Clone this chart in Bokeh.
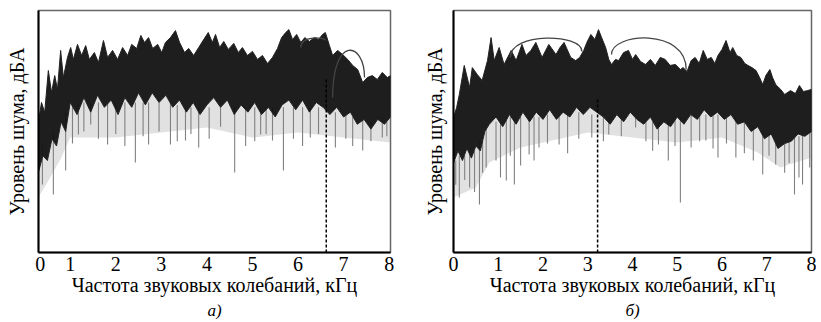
import numpy as np
from bokeh.plotting import figure
from bokeh.layouts import row
from bokeh.models import FixedTicker, Range1d, Title
from bokeh.embed import file_html
from bokeh.resources import INLINE

# ---------------- panel (а) ----------------
a_freq = [0.30, 0.37, 0.44, 0.52, 0.59, 0.66, 0.72, 0.79, 0.85, 0.94, 1.01, 1.07, 1.16, 1.25,
          1.34, 1.42, 1.53, 1.62, 1.73, 1.82, 1.93, 2.04, 2.15, 2.26, 2.35, 2.46, 2.55, 2.63,
          2.72, 2.81, 2.92, 3.01, 3.09, 3.20, 3.31, 3.40, 3.51, 3.60, 3.71, 3.82, 3.93, 4.03,
          4.12, 4.19, 4.28, 4.37, 4.47, 4.59, 4.69, 4.78, 4.89, 5.00, 5.11, 5.22, 5.33, 5.44,
          5.55, 5.64, 5.73, 5.80, 5.88, 5.97, 6.06, 6.15, 6.25, 6.36, 6.45, 6.54, 6.60, 6.69,
          6.76, 6.87, 6.98, 7.09, 7.20, 7.31, 7.42, 7.52, 7.63, 7.74, 7.85, 7.96, 8.03]
a_top = [53.7, 62.0, 57.9, 75.2, 66.1, 73.1, 67.4, 83.5, 72.3, 80.6, 84.7, 79.8, 86.0, 81.4,
         85.5, 79.8, 82.6, 78.5, 87.6, 80.6, 83.5, 79.8, 84.7, 81.4, 86.0, 84.3, 89.7, 86.8,
         88.8, 84.3, 86.0, 82.6, 86.8, 88.8, 91.7, 86.8, 82.6, 84.3, 81.4, 84.7, 88.0, 90.9,
         86.8, 90.1, 84.7, 87.2, 83.9, 86.4, 82.6, 84.7, 81.4, 83.1, 79.8, 81.4, 78.1, 80.6,
         84.3, 88.8, 90.9, 92.1, 88.0, 90.1, 86.8, 88.8, 87.2, 88.8, 88.0, 90.1, 90.9, 85.5,
         81.4, 83.5, 81.8, 79.8, 77.3, 75.6, 70.2, 72.3, 73.1, 71.5, 74.4, 72.3, 73.1]
a_core_freq = [0.30, 0.40, 0.50, 0.60, 0.70, 0.80, 0.90, 1.00, 1.15, 1.30, 1.45, 1.60, 1.75,
               1.90, 2.05, 2.20, 2.35, 2.50, 2.65, 2.80, 2.95, 3.10, 3.25, 3.40, 3.55, 3.70,
               3.85, 4.00, 4.15, 4.30, 4.45, 4.60, 4.75, 4.90, 5.05, 5.20, 5.35, 5.50, 5.65,
               5.80, 5.95, 6.10, 6.25, 6.40, 6.55, 6.70, 6.85, 7.00, 7.15, 7.30, 7.45, 7.60,
               7.75, 7.90, 8.03]
a_core = [33, 40, 38, 47, 44, 54, 50, 62, 57, 64, 58, 65, 60, 63, 57, 64, 60, 66, 61, 66, 62,
          65, 60, 63, 58, 62, 57, 61, 64, 60, 63, 57, 61, 58, 62, 57, 60, 56, 61, 63, 59, 63,
          58, 62, 60, 57, 60, 56, 58, 53, 55, 51, 55, 53, 56]
a_fringe_freq = [0.30, 0.5, 0.8, 1.0, 2.0, 3.0, 4.0, 5.0, 6.0, 7.0, 8.03]
a_fringe = [22.7, 29.0, 39.0, 47.5, 47.5, 49.6, 51.7, 47.5, 49.6, 47.5, 45.5]
a_spike_freq = [0.39, 0.63, 0.90, 1.18, 1.45, 1.82, 2.43, 2.72, 3.20, 3.53, 3.82, 4.61, 5.18,
                5.44, 5.68, 6.27, 6.82, 7.42, 7.85,
                1.05, 1.30, 1.62, 2.00, 2.20, 2.60, 2.95, 3.35, 3.65, 4.05, 4.30, 4.85, 5.05,
                5.30, 5.90, 6.10, 6.45, 7.05, 7.20, 7.60, 7.95]
a_spike_top = [45, 50, 58, 62, 62, 62, 62, 62, 62, 60, 60, 60, 60, 60, 60, 60, 58, 55, 56,
               60, 62, 62, 62, 62, 62, 62, 61, 60, 60, 60, 60, 60, 60, 60, 60, 60, 57, 56, 54, 54]
a_spike_low = [28.1, 24.0, 33.9, 48.8, 52.9, 44.6, 37.2, 44.6, 44.6, 46.3, 43.4, 33.1, 48.8,
               46.3, 33.9, 47.5, 43.4, 42.1, 47.5,
               45, 50, 47, 49, 44, 48, 50, 46, 49, 47, 52, 44, 46, 49, 47, 44, 49, 47, 44, 46, 48]
a_marker = [6.62]
a_marker_top = [72.0]
a_arc_x0 = [6.06, 6.76]
a_arc_y0 = [84.7, 64.0]
a_arc_x1 = [6.60, 7.46]
a_arc_y1 = [87.6, 72.3]
a_arc_top = [88.6, 83.5]
a_ticks = [0.34, 1, 2, 3, 4, 5, 6, 7, 8]
a_range = (0.304, 8.03)

# ---------------- panel (б) ----------------
b_freq = [0.00, 0.07, 0.13, 0.24, 0.36, 0.42, 0.53, 0.64, 0.76, 0.84, 0.91, 1.02, 1.13, 1.29,
          1.40, 1.53, 1.62, 1.73, 1.84, 1.98, 2.13, 2.29, 2.38, 2.47, 2.62, 2.73, 2.82, 2.91,
          2.98, 3.07, 3.16, 3.24, 3.31, 3.40, 3.47, 3.53, 3.62, 3.69, 3.80, 3.91, 4.00, 4.07,
          4.18, 4.29, 4.40, 4.51, 4.62, 4.73, 4.84, 4.96, 5.07, 5.13, 5.22, 5.31, 5.40, 5.49,
          5.58, 5.67, 5.76, 5.84, 5.91, 6.00, 6.09, 6.18, 6.24, 6.33, 6.42, 6.51, 6.58, 6.67,
          6.76, 6.84, 6.91, 6.98, 7.07, 7.13, 7.20, 7.31, 7.40, 7.53, 7.64, 7.73, 7.82, 7.91, 8.00]
b_top = [55.8, 59.9, 65.3, 77.3, 68.2, 76.4, 73.6, 71.1, 79.3, 88.8, 79.3, 84.7, 77.7, 83.5,
         79.3, 86.0, 81.4, 83.5, 86.8, 80.6, 86.0, 81.8, 84.7, 86.8, 80.6, 79.3, 80.6, 83.5,
         86.8, 90.1, 88.0, 92.1, 88.8, 84.7, 79.8, 77.7, 79.8, 79.3, 82.6, 83.5, 79.8, 81.8,
         78.9, 77.7, 79.8, 77.3, 80.6, 79.8, 77.3, 77.7, 75.6, 76.4, 74.8, 79.3, 80.6, 78.1,
         83.5, 79.8, 80.6, 78.1, 81.4, 83.9, 87.6, 82.6, 84.7, 81.4, 80.6, 78.1, 77.3, 76.4,
         75.2, 72.3, 69.4, 73.1, 75.6, 72.3, 69.4, 67.4, 65.3, 66.9, 65.7, 69.0, 66.5, 66.9, 67.4]
b_core_freq = [0.00, 0.10, 0.20, 0.30, 0.40, 0.50, 0.60, 0.70, 0.80, 0.95, 1.10, 1.25, 1.40,
               1.55, 1.70, 1.85, 2.00, 2.15, 2.30, 2.45, 2.60, 2.75, 2.90, 3.05, 3.20, 3.35,
               3.50, 3.65, 3.80, 3.95, 4.10, 4.25, 4.40, 4.55, 4.70, 4.85, 5.00, 5.15, 5.30,
               5.45, 5.60, 5.75, 5.90, 6.05, 6.20, 6.35, 6.50, 6.65, 6.80, 6.95, 7.10, 7.25,
               7.40, 7.55, 7.70, 7.85, 8.00]
b_core = [37, 42, 38, 43, 39, 44, 42, 50, 53, 56, 52, 57, 53, 58, 54, 58, 55, 59, 55, 58, 56,
          60, 57, 60, 58, 56, 53, 57, 54, 58, 55, 53, 56, 51, 54, 52, 56, 53, 57, 55, 59, 56,
          58, 55, 57, 53, 54, 50, 52, 47, 49, 43, 45, 46, 49, 48, 50]
b_fringe_freq = [0.0, 0.5, 0.8, 1.5, 2.5, 3.0, 4.0, 5.0, 6.0, 6.8, 7.3, 8.0]
b_fringe = [22.7, 26.9, 37.2, 43.4, 47.5, 49.6, 47.5, 45.5, 47.5, 41.3, 35.1, 39.3]
b_spike_freq = [0.13, 0.36, 0.58, 0.73, 1.18, 1.36, 1.69, 1.91, 2.36, 3.09, 3.47, 4.07, 4.58,
                4.80, 5.07, 5.31, 5.64, 5.91, 6.31, 6.91, 7.20, 7.62, 7.80, 7.96,
                0.05, 0.25, 0.47, 0.65, 0.95, 1.05, 1.27, 1.50, 1.80, 2.10, 2.55, 2.80, 3.35,
                3.75, 4.30, 4.45, 4.95, 5.50, 5.80, 6.10, 6.50, 6.70, 7.05, 7.40, 7.50, 7.72]
b_spike_top = [40, 42, 46, 52, 56, 56, 56, 56, 57, 57, 56, 56, 54, 55, 56, 57, 57, 57, 56, 50,
               45, 48, 49, 50,
               38, 40, 42, 46, 54, 54, 56, 56, 56, 57, 57, 58, 56, 55, 54, 54, 55, 57, 57, 56,
               54, 52, 50, 45, 46, 48]
b_spike_low = [22.7, 26.9, 19.8, 35.1, 29.8, 28.1, 40.5, 43.4, 44.6, 47.5, 48.8, 51.7, 44.6,
               38.0, 20.7, 43.4, 46.3, 39.3, 39.3, 32.2, 36.4, 24.0, 28.1, 35.1,
               28, 30, 25, 33, 38, 31, 40, 36, 38, 45, 41, 47, 46, 48, 46, 42, 44, 46, 43, 45,
               41, 38, 40, 33, 37, 31]
b_marker = [3.22]
b_marker_top = [64.0]
b_arc_x0 = [1.27, 3.53]
b_arc_y0 = [80.6, 81.8]
b_arc_x1 = [2.87, 5.20]
b_arc_y1 = [83.1, 75.6]
b_arc_top = [88.6, 88.6]
b_ticks = [0, 1, 2, 3, 4, 5, 6, 7, 8]
b_range = (0.0, 8.0)

X_LABEL = "Частота звуковых колебаний, кГц"
Y_LABEL = "Уровень шума, дБА"
FONT = "Liberation Serif"
FS = "20px"


def panel(freq, top, core_f, core, fr_f, fr, sp_f, sp_t, sp_l, mk, mk_top,
          ax0, ay0, ax1, ay1, atop, ticks, xr, tag, bl, br, fw, y_stand):
    p = figure(frame_width=fw, frame_height=242, x_range=Range1d(*xr), y_range=Range1d(0, 100),
               output_backend="svg", toolbar_location=None,
               min_border_left=bl, min_border_right=br, min_border_top=10, min_border_bottom=60)
    p.background_fill_color = "white"
    p.border_fill_color = "white"
    p.grid.visible = False
    p.outline_line_color = "#666666"
    p.outline_line_width = 1.5

    # grey fringe of downward streaks
    p.patch(list(core_f) + list(fr_f)[::-1], list(core) + list(fr)[::-1],
            fill_color="#9a9a9a", fill_alpha=0.3, line_color=None)
    # deep spikes
    p.segment(x0=sp_f, y0=sp_t, x1=sp_f, y1=sp_l, line_color="#808080", line_width=1.1)
    # dense black spectrum body
    p.patch(list(freq) + list(core_f)[::-1], list(top) + list(core)[::-1],
            fill_color="#121212", fill_alpha=0.95, line_color="#222222", line_width=1)
    # marker line
    p.segment(x0=mk, y0=[0] * len(mk), x1=mk, y1=mk_top, line_color="black",
              line_width=1.5, line_dash="3 2")
    # arcs (cubic Bezier approximating half ellipses)
    cy0 = [y0 + (t - y0) / 0.75 for y0, t in zip(ay0, atop)]
    cy1 = [y1 + (t - y1) / 0.75 for y1, t in zip(ay1, atop)]
    p.bezier(x0=ax0, y0=ay0, x1=ax1, y1=ay1, cx0=ax0, cy0=cy0, cx1=ax1, cy1=cy1,
             line_color="#444444", line_width=1.3)

    xa = p.xaxis[0]
    xa.ticker = FixedTicker(ticks=ticks)
    xa.major_label_overrides = {ticks[0]: "0"}
    xa.major_tick_line_color = None
    xa.minor_tick_line_color = None
    xa.major_tick_out = 0
    xa.major_label_standoff = 4
    xa.major_label_text_font = FONT
    xa.major_label_text_font_size = FS
    xa.major_label_text_color = "black"
    xa.axis_label = X_LABEL
    xa.axis_label_text_font = FONT
    xa.axis_label_text_font_size = FS
    xa.axis_label_text_font_style = "normal"
    xa.axis_label_text_color = "black"
    xa.axis_label_standoff = 0
    xa.axis_line_color = "black"
    xa.axis_line_width = 2

    ya = p.yaxis[0]
    ya.ticker = FixedTicker(ticks=[])
    ya.major_tick_line_color = None
    ya.minor_tick_line_color = None
    ya.major_tick_out = 0
    ya.major_label_standoff = 0
    ya.axis_label = Y_LABEL
    ya.axis_label_text_font = FONT
    ya.axis_label_text_font_size = FS
    ya.axis_label_text_font_style = "normal"
    ya.axis_label_text_color = "black"
    ya.axis_label_standoff = y_stand
    ya.axis_line_color = "black"
    ya.axis_line_width = 2

    p.add_layout(Title(text=tag, align="center", text_font=FONT, text_font_size="17px",
                       text_font_style="italic", text_color="black", standoff=0, offset=0),
                 "below")
    return p


p1 = panel(a_freq, a_top, a_core_freq, a_core, a_fringe_freq, a_fringe,
           a_spike_freq, a_spike_top, a_spike_low, a_marker, a_marker_top,
           a_arc_x0, a_arc_y0, a_arc_x1, a_arc_y1, a_arc_top, a_ticks, a_range, "а)",
           38, 18, 352, 11)
p2 = panel(b_freq, b_top, b_core_freq, b_core, b_fringe_freq, b_fringe,
           b_spike_freq, b_spike_top, b_spike_low, b_marker, b_marker_top,
           b_arc_x0, b_arc_y0, b_arc_x1, b_arc_y1, b_arc_top, b_ticks, b_range, "б)",
           45, 5, 358, 8)

layout = row(p1, p2)
open("out.html", "w").write(file_html(layout, INLINE))
